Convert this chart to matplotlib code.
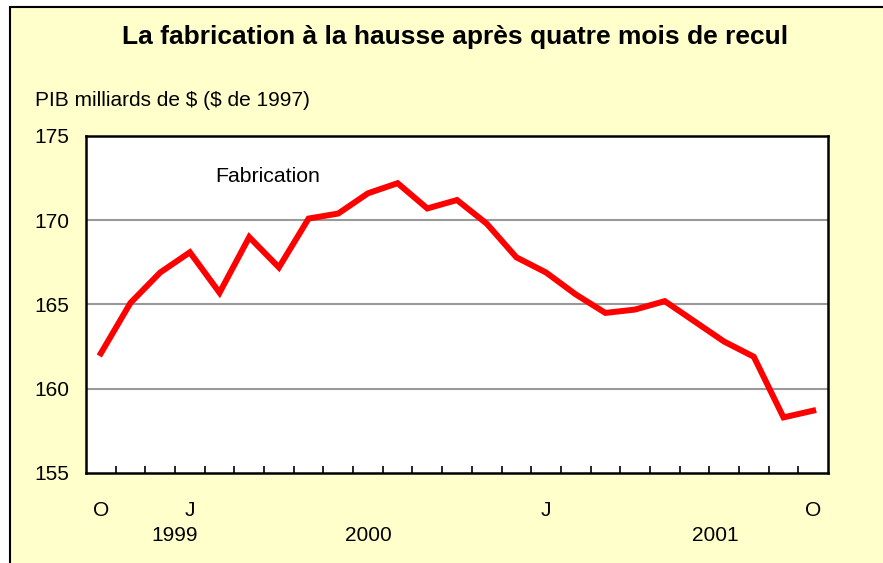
import matplotlib.pyplot as plt
from matplotlib.patches import Rectangle

plt.rcParams['font.family'] = ['Liberation Sans', 'DejaVu Sans']

# Monthly manufacturing GDP, billions of 1997 dollars
values = [162.1, 165.1, 166.9, 168.1, 165.7, 169.0, 167.2, 170.1, 170.4,
          171.6, 172.2, 170.7, 171.2, 169.8, 167.8, 166.9, 165.6, 164.5,
          164.7, 165.2, 164.0, 162.8, 161.9, 158.3, 158.7]
month_pos = [0, 3, 15, 24]
month_labels = ['O', 'J', 'J', 'O']
year_pos = [2.5, 9.0, 20.7]
year_labels = ['1999', '2000', '2001']
y_ticks = [155, 160, 165, 170, 175]

fig = plt.figure(figsize=(8.83, 5.63), dpi=100)
fig.patch.set_facecolor('white')

# yellow panel with black border (top and left visible)
bg = Rectangle((10 / 883, -0.05), 1.2, 1 - 7 / 563 + 0.05, transform=fig.transFigure,
               facecolor='#FFFFCC', edgecolor='black', linewidth=1.5, zorder=-1)
fig.patches.append(bg)

ax = fig.add_axes([86 / 883, 90 / 563, 742 / 883, 337 / 563])
ax.set_facecolor('white')

x = list(range(len(values)))
ax.plot(x, values, color='#FF0000', linewidth=4.3, solid_joinstyle='miter', zorder=3)

ax.set_xlim(-0.5, len(values) - 0.5)
ax.set_ylim(155, 175)
ax.set_yticks(y_ticks)
ax.tick_params(axis='y', length=0, pad=12, labelsize=15)
for t in y_ticks[1:-1]:
    ax.axhline(t, color='#999999', linewidth=1.5, zorder=1)

ax.set_xticks(month_pos)
ax.set_xticklabels(month_labels)
ax.tick_params(axis='x', which='major', length=0, pad=20, labelsize=15)
ax.set_xticks([i + 0.5 for i in range(len(values) - 1)], minor=True)
ax.tick_params(axis='x', which='minor', direction='in', length=5, width=1.2)

for lab, p in zip(year_labels, year_pos):
    ax.text(p, -0.185, lab, transform=ax.get_xaxis_transform(),
            ha='center', va='center', fontsize=15)

for s in ax.spines.values():
    s.set_linewidth(1.8)
    s.set_color('black')

ax.text(3.85, 172.6, 'Fabrication', ha='left', va='center', fontsize=15.3)

fig.text(455 / 883, 1 - 37 / 563, 'La fabrication à la hausse après quatre mois de recul',
         ha='center', va='center', fontsize=19, fontweight='bold')
fig.text(35 / 883, 1 - 100 / 563, 'PIB milliards de \\$ (\\$ de 1997)',
         ha='left', va='center', fontsize=15)

fig.savefig('out.png', dpi=100)
